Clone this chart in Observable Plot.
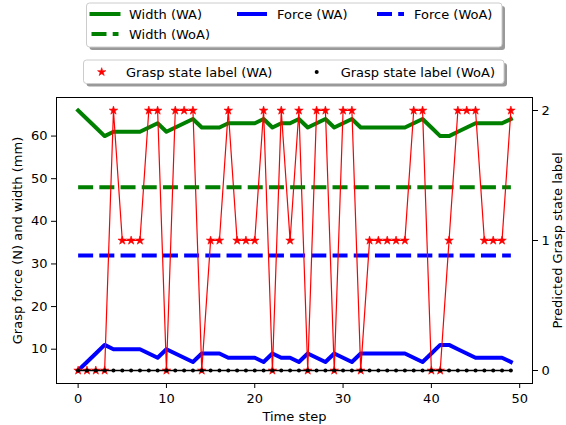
<!DOCTYPE html>
<html><head><meta charset="utf-8">
<script src="https://cdn.jsdelivr.net/npm/d3@7"></script>
<script src="https://cdn.jsdelivr.net/npm/@observablehq/plot@0.6"></script>
<style>
body{margin:0;background:#fff;font-family:"DejaVu Sans",sans-serif;}
#legends{display:block;width:566px;height:92px;}
#chart svg{display:block;}
</style>
</head><body>
<svg id="legends" width="566" height="92"></svg>
<div id="chart"></div>
<script>
// ---- data ----
const timeSteps = [0,1,2,3,4,5,6,7,8,9,10,11,12,13,14,15,16,17,18,19,20,21,22,23,24,25,26,27,28,29,30,31,32,33,34,35,36,37,38,39,40,41,42,43,44,45,46,47,48,49];
const widthWA = [66,64,62,60,61,61,61,61,62,63, 61,62,63,64,62,62,62,63,63,63, 63,64,62,63,63,64,62,63,64,62, 63,64,62,62,62,62,62,62,63,64, 62,60,60,61,62,63,63,63,63,64];
const widthWoA = [48,48,48,48,48,48,48,48,48,48, 48,48,48,48,48,48,48,48,48,48, 48,48,48,48,48,48,48,48,48,48, 48,48,48,48,48,48,48,48,48,48, 48,48,48,48,48,48,48,48,48,48];
const forceWA = [5,7,9,11,10,10,10,10,9,8, 10,9,8,7,9,9,9,8,8,8, 8,7,9,8,8,7,9,8,7,9, 8,7,9,9,9,9,9,9,8,7, 9,11,11,10,9,8,8,8,8,7];
const forceWoA = [32,32,32,32,32,32,32,32,32,32, 32,32,32,32,32,32,32,32,32,32, 32,32,32,32,32,32,32,32,32,32, 32,32,32,32,32,32,32,32,32,32, 32,32,32,32,32,32,32,32,32,32];
const labelWA = [0,0,0,0,2,1,1,1,2,2, 0,2,2,2,0,1,1,2,1,1, 1,2,0,2,1,2,0,2,2,0, 2,2,0,1,1,1,1,1,2,2, 0,0,1,2,2,2,1,1,1,2];
const labelWoA = [0,0,0,0,0,0,0,0,0,0, 0,0,0,0,0,0,0,0,0,0, 0,0,0,0,0,0,0,0,0,0, 0,0,0,0,0,0,0,0,0,0, 0,0,0,0,0,0,0,0,0,0];
const xTicks = [0,10,20,30,40,50];
const yLeftTicks = [10,20,30,40,50,60];
const yRightTicks = [0,1,2];
const xDomain = [-2.45, 51.45];
const yLeftDomain = [1.95, 69.05];
const yRightDomain = [-0.1, 2.1];

const GREEN = "#008000", BLUE = "#0000ff", RED = "#ff0000", BLACK = "#000000";
const DASH = "15,6.2";
const FONT = "DejaVu Sans, sans-serif";

// right (twin) axis scale mapped onto the left axis domain
const rightToLeft = d3.scaleLinear().domain(yRightDomain).range(yLeftDomain);

const chart = Plot.plot({
  width: 566, height: 333,
  marginLeft: 56, marginRight: 34, marginTop: 5, marginBottom: 42,
  style: {fontFamily: FONT, fontSize: "13px", background: "white", color: "black", overflow: "visible"},
  x: {domain: xDomain},
  y: {domain: yLeftDomain},
  marks: [
    Plot.line(widthWA, {x: timeSteps, y: d => d, stroke: GREEN, strokeWidth: 4, strokeLinecap: "square"}),
    Plot.line(widthWoA, {x: timeSteps, y: d => d, stroke: GREEN, strokeWidth: 4, strokeDasharray: DASH, strokeLinecap: "butt"}),
    Plot.line(forceWA, {x: timeSteps, y: d => d, stroke: BLUE, strokeWidth: 4, strokeLinecap: "square"}),
    Plot.line(forceWoA, {x: timeSteps, y: d => d, stroke: BLUE, strokeWidth: 4, strokeDasharray: DASH, strokeLinecap: "butt"}),
    Plot.line(labelWA, {x: timeSteps, y: d => rightToLeft(d), stroke: RED, strokeWidth: 1.2}),
    Plot.dot(labelWA, {x: timeSteps, y: d => rightToLeft(d), symbol: "star", fill: RED, stroke: RED, strokeWidth: 0.6, r: 2.7}),
    Plot.line(labelWoA, {x: timeSteps, y: d => rightToLeft(d), stroke: BLACK, strokeWidth: 1.5}),
    Plot.dot(labelWoA, {x: timeSteps, y: d => rightToLeft(d), fill: BLACK, r: 2}),
    Plot.frame({stroke: "black", strokeWidth: 1}),
    Plot.axisX({ticks: xTicks, tickSize: 5, tickPadding: 5, label: null}),
    Plot.axisY({ticks: yLeftTicks, anchor: "left", tickSize: 5, tickPadding: 4, label: null}),
    Plot.axisY({ticks: yRightTicks.map(v => rightToLeft(v)), anchor: "right", tickSize: 5, tickPadding: 4,
      tickFormat: d => String(Math.round(rightToLeft.invert(d))), label: null}),
    Plot.text(["Time step"], {text: d => d, frameAnchor: "bottom", dy: 33, fontSize: 13, textAnchor: "middle", lineAnchor: "middle"}),
    Plot.text(["Grasp force (N) and width (mm)"], {text: d => d, frameAnchor: "left", dx: -39, rotate: -90, fontSize: 13, textAnchor: "middle", lineAnchor: "middle"}),
    Plot.text(["Predicted Grasp state label"], {text: d => d, frameAnchor: "right", dx: 25.5, rotate: -90, fontSize: 13, textAnchor: "middle", lineAnchor: "middle"})
  ]
});
document.getElementById("chart").appendChild(chart);

// ---- legends (matplotlib-style boxes above the chart) ----
const lg = d3.select("#legends").style("font-family", FONT).style("font-size", "13px");
function box(x, y, w, h) {
  lg.append("rect").attr("x", x + 3).attr("y", y + 3).attr("width", w).attr("height", h).attr("rx", 3).attr("fill", "#999999");
  lg.append("rect").attr("x", x).attr("y", y).attr("width", w).attr("height", h).attr("rx", 3)
    .attr("fill", "white").attr("stroke", "#cccccc").attr("stroke-width", 1);
}
function label(x, y, t) {
  lg.append("text").attr("x", x).attr("y", y).attr("dy", "0.36em").attr("fill", "black").text(t);
}
function swatch(x1, x2, y, color, dashed) {
  const l = lg.append("line").attr("x1", x1).attr("x2", x2).attr("y1", y).attr("y2", y)
    .attr("stroke", color).attr("stroke-width", 4);
  if (dashed) l.attr("stroke-dasharray", DASH).attr("stroke-linecap", "butt");
}
box(86.5, 3, 415.5, 44);
swatch(89.5, 120.5, 14, GREEN, false); label(129, 14, "Width (WA)");
swatch(237, 267, 14, BLUE, false); label(277, 14, "Force (WA)");
swatch(377, 404, 14, BLUE, true); label(414, 14, "Force (WoA)");
swatch(91.5, 118.5, 34, GREEN, true); label(129, 34, "Width (WoA)");

box(83.5, 60, 420.5, 23.5);
lg.append("path").attr("d", d3.symbol(d3.symbolStar, 2.6 * 2.6 * Math.PI)())
  .attr("transform", "translate(101.7,72)").attr("fill", RED).attr("stroke", RED).attr("stroke-width", 0.6);
label(126, 72, "Grasp state label (WA)");
lg.append("circle").attr("cx", 316.7).attr("cy", 72).attr("r", 2).attr("fill", BLACK);
label(340.7, 72, "Grasp state label (WoA)");
</script>
</body></html>
